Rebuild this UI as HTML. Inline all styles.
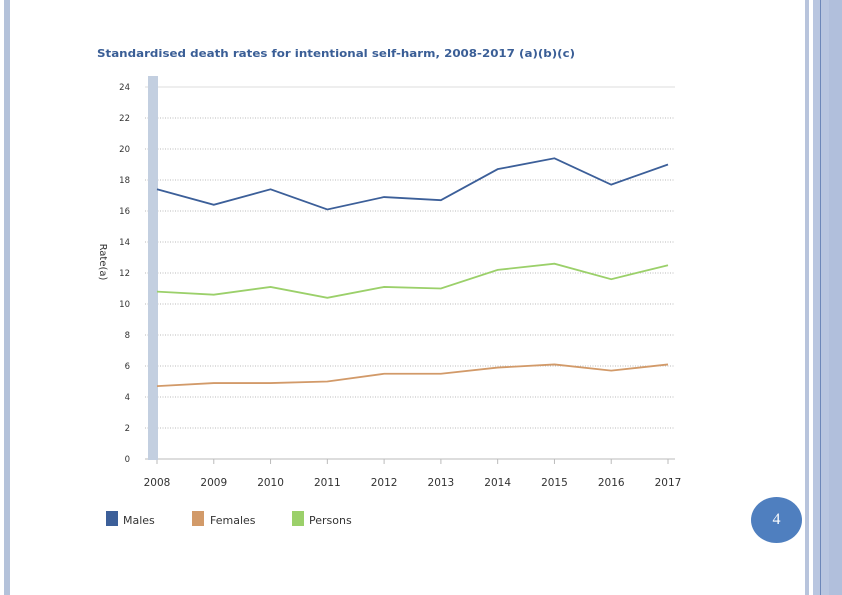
<!DOCTYPE html>
<html><head><meta charset="utf-8"><style>
body{margin:0;width:842px;height:595px;background:#fff;overflow:hidden;position:relative;font-family:"DejaVu Sans",sans-serif}
.abs{position:absolute}
</style></head><body>
<div class="abs" style="left:4px;top:0;width:6px;height:595px;background:#b4c2da"></div>
<div class="abs" style="left:805px;top:0;width:4px;height:595px;background:#b8c4dc"></div>
<div class="abs" style="left:813px;top:0;width:29px;height:595px;background:#b9c6e0"></div>
<div class="abs" style="left:829px;top:0;width:13px;height:595px;background:#b1bfdc"></div>
<div class="abs" style="left:820px;top:0;width:1px;height:595px;background:#6d87b9"></div>
<div class="abs" style="left:751px;top:497px;width:51px;height:46px;border-radius:50%;background:#4f7fbf;color:#fff;font-family:'Liberation Serif',serif;font-size:16px;text-align:center;line-height:46px">4</div>
<svg class="abs" style="left:0;top:0" width="842" height="595">
<text x="97" y="57" font-size="11" font-weight="bold" fill="#3a5e96" textLength="478" lengthAdjust="spacingAndGlyphs">Standardised death rates for intentional self-harm, 2008-2017 (a)(b)(c)</text>
<text transform="translate(100,262) rotate(90)" text-anchor="middle" font-size="10" fill="#333">Rate(a)</text>
<g id="grid"></g>
<rect x="148" y="76" width="10" height="384" fill="#c3cfe0"/>
<g id="marks"></g>
<g>
<rect x="106" y="511" width="12" height="15" fill="#3c5f99"/>
<text x="123" y="524" font-size="11" fill="#333">Males</text>
<rect x="192" y="511" width="12" height="15" fill="#d29a69"/>
<text x="210" y="524" font-size="11" fill="#333">Females</text>
<rect x="292" y="511" width="12" height="15" fill="#9bd06a"/>
<text x="309" y="524" font-size="11" fill="#333">Persons</text>
</g>
</svg>
<script>
const years=["2008","2009","2010","2011","2012","2013","2014","2015","2016","2017"];
const yTicks=[0,2,4,6,8,10,12,14,16,18,20,22,24];
const males=[17.4,16.4,17.4,16.1,16.9,16.7,18.7,19.4,17.7,19.0];
const persons=[10.8,10.6,11.1,10.4,11.1,11.0,12.2,12.6,11.6,12.5];
const females=[4.7,4.9,4.9,5.0,5.5,5.5,5.9,6.1,5.7,6.1];
const NS="http://www.w3.org/2000/svg";
const x=i=>157+i*(668-157)/(years.length-1);
const y=v=>459-v*15.5;
const grid=document.getElementById('grid'),marks=document.getElementById('marks');
function mk(t,a,p){const e=document.createElementNS(NS,t);for(const k in a)e.setAttribute(k,a[k]);p.appendChild(e);return e;}
yTicks.forEach(v=>{
 const l=mk('line',{x1:145,x2:675,y1:y(v),y2:y(v),stroke:v==24?'#ddd':'#bbb','stroke-dasharray':v==24||v==0?'':'1,1.5','stroke-width':1},grid);
 
 
 const t=mk('text',{x:130,y:y(v)+3,'text-anchor':'end','font-size':8.5,fill:'#333'},grid);t.textContent=v;
 
 
});
years.forEach((yr,i)=>{
 const tk=mk('line',{x1:x(i),x2:x(i),y1:459,y2:464,stroke:'#bbb'},grid);
 
 
 const t=mk('text',{x:x(i),y:486,'text-anchor':'middle','font-size':10.5,fill:'#333'},grid);t.textContent=yr;
 
 
});
[[males,'#3c5f99','males-line'],[persons,'#9bd06a','persons-line'],[females,'#d29a69','females-line']].forEach(([d,c,n])=>{
 const p=mk('polyline',{points:d.map((v,i)=>x(i)+','+y(v)).join(' '),fill:'none',stroke:c,'stroke-width':1.8},marks);
 
 
});
</script>
</body></html>
